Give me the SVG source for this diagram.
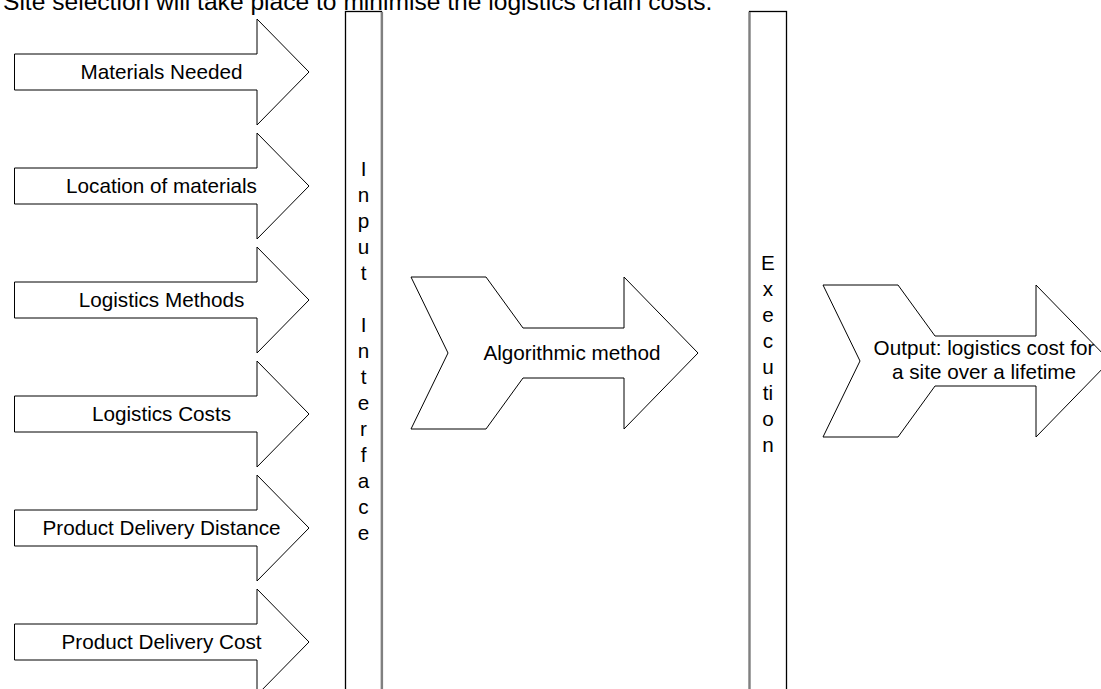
<svg xmlns="http://www.w3.org/2000/svg" width="1101" height="689" viewBox="0 0 1101 689">
  <style>
    .shape { fill: #ffffff; stroke: #000000; stroke-width: 1; stroke-linejoin: miter; }
    .lbl { font-family: "Liberation Sans", Arial, sans-serif; font-size: 20.7px; fill: #000000; text-anchor: middle; }
    .title { font-family: "Liberation Sans", Arial, sans-serif; font-size: 24.6px; fill: #000000; }
    .bar { fill: #ffffff; stroke: #000000; stroke-width: 1.3; }
    .shade { stroke: #808080; stroke-width: 2.2; fill: none; }
  </style>
  <defs>
    <!-- input block arrow, centred on y=0 -->
    <path id="inArrow" class="shape" d="M14.5,-18 H257 V-53 L309,0 L257,53 V18 H14.5 Z"/>
    <!-- chevron-tailed process arrow -->
    <path id="chevArrow" class="shape" d="M411,277 H486 L523,328 H624 V277 L698,353 L624,429 V378 H523 L486,429 H411 L448,353 Z"/>
  </defs>

  <rect width="1101" height="689" fill="#ffffff"/>

  <text class="title" x="3" y="10">Site selection will take place to minimise the logistics chain costs.</text>

  <g id="inputs">
    <g id="materials-needed" transform="translate(0,72)">
      <use href="#inArrow"/>
      <text class="lbl" x="161.5" y="7">Materials Needed</text>
    </g>
    <g id="location-of-materials" transform="translate(0,186)">
      <use href="#inArrow"/>
      <text class="lbl" x="161.5" y="7">Location of materials</text>
    </g>
    <g id="logistics-methods" transform="translate(0,300)">
      <use href="#inArrow"/>
      <text class="lbl" x="161.5" y="7">Logistics Methods</text>
    </g>
    <g id="logistics-costs" transform="translate(0,414)">
      <use href="#inArrow"/>
      <text class="lbl" x="161.5" y="7">Logistics Costs</text>
    </g>
    <g id="product-delivery-distance" transform="translate(0,528)">
      <use href="#inArrow"/>
      <text class="lbl" x="161.5" y="7">Product Delivery Distance</text>
    </g>
    <g id="product-delivery-cost" transform="translate(0,642)">
      <use href="#inArrow"/>
      <text class="lbl" x="161.5" y="7">Product Delivery Cost</text>
    </g>
  </g>

  <g id="input-interface">
    <rect class="bar" x="345.5" y="11.5" width="36" height="690"/>
    <line class="shade" x1="382" y1="12" x2="382" y2="689"/>
    <g class="lbl">
      <text x="363.5" y="176">I</text>
      <text x="363.5" y="202">n</text>
      <text x="363.5" y="228">p</text>
      <text x="363.5" y="254">u</text>
      <text x="363.5" y="280">t</text>
      <text x="363.5" y="332">I</text>
      <text x="363.5" y="358">n</text>
      <text x="363.5" y="384">t</text>
      <text x="363.5" y="410">e</text>
      <text x="363.5" y="436">r</text>
      <text x="363.5" y="462">f</text>
      <text x="363.5" y="488">a</text>
      <text x="363.5" y="514">c</text>
      <text x="363.5" y="540">e</text>
    </g>
  </g>

  <g id="algorithmic-method">
    <use href="#chevArrow"/>
    <text class="lbl" x="572" y="360">Algorithmic method</text>
  </g>

  <g id="execution">
    <rect class="bar" x="749.5" y="11.5" width="37" height="690"/>
    <line class="shade" x1="749.5" y1="12" x2="749.5" y2="689"/>
    <g class="lbl">
      <text x="768" y="270">E</text>
      <text x="768" y="296">x</text>
      <text x="768" y="322">e</text>
      <text x="768" y="348">c</text>
      <text x="768" y="374">u</text>
      <text x="768" y="400">ti</text>
      <text x="768" y="426">o</text>
      <text x="768" y="452">n</text>
    </g>
  </g>

  <g id="output">
    <use href="#chevArrow" transform="translate(412,8)"/>
    <text class="lbl" x="984" y="355">Output: logistics cost for</text>
    <text class="lbl" x="984" y="379">a site over a lifetime</text>
  </g>

  <g id="connectors"></g>
</svg>
